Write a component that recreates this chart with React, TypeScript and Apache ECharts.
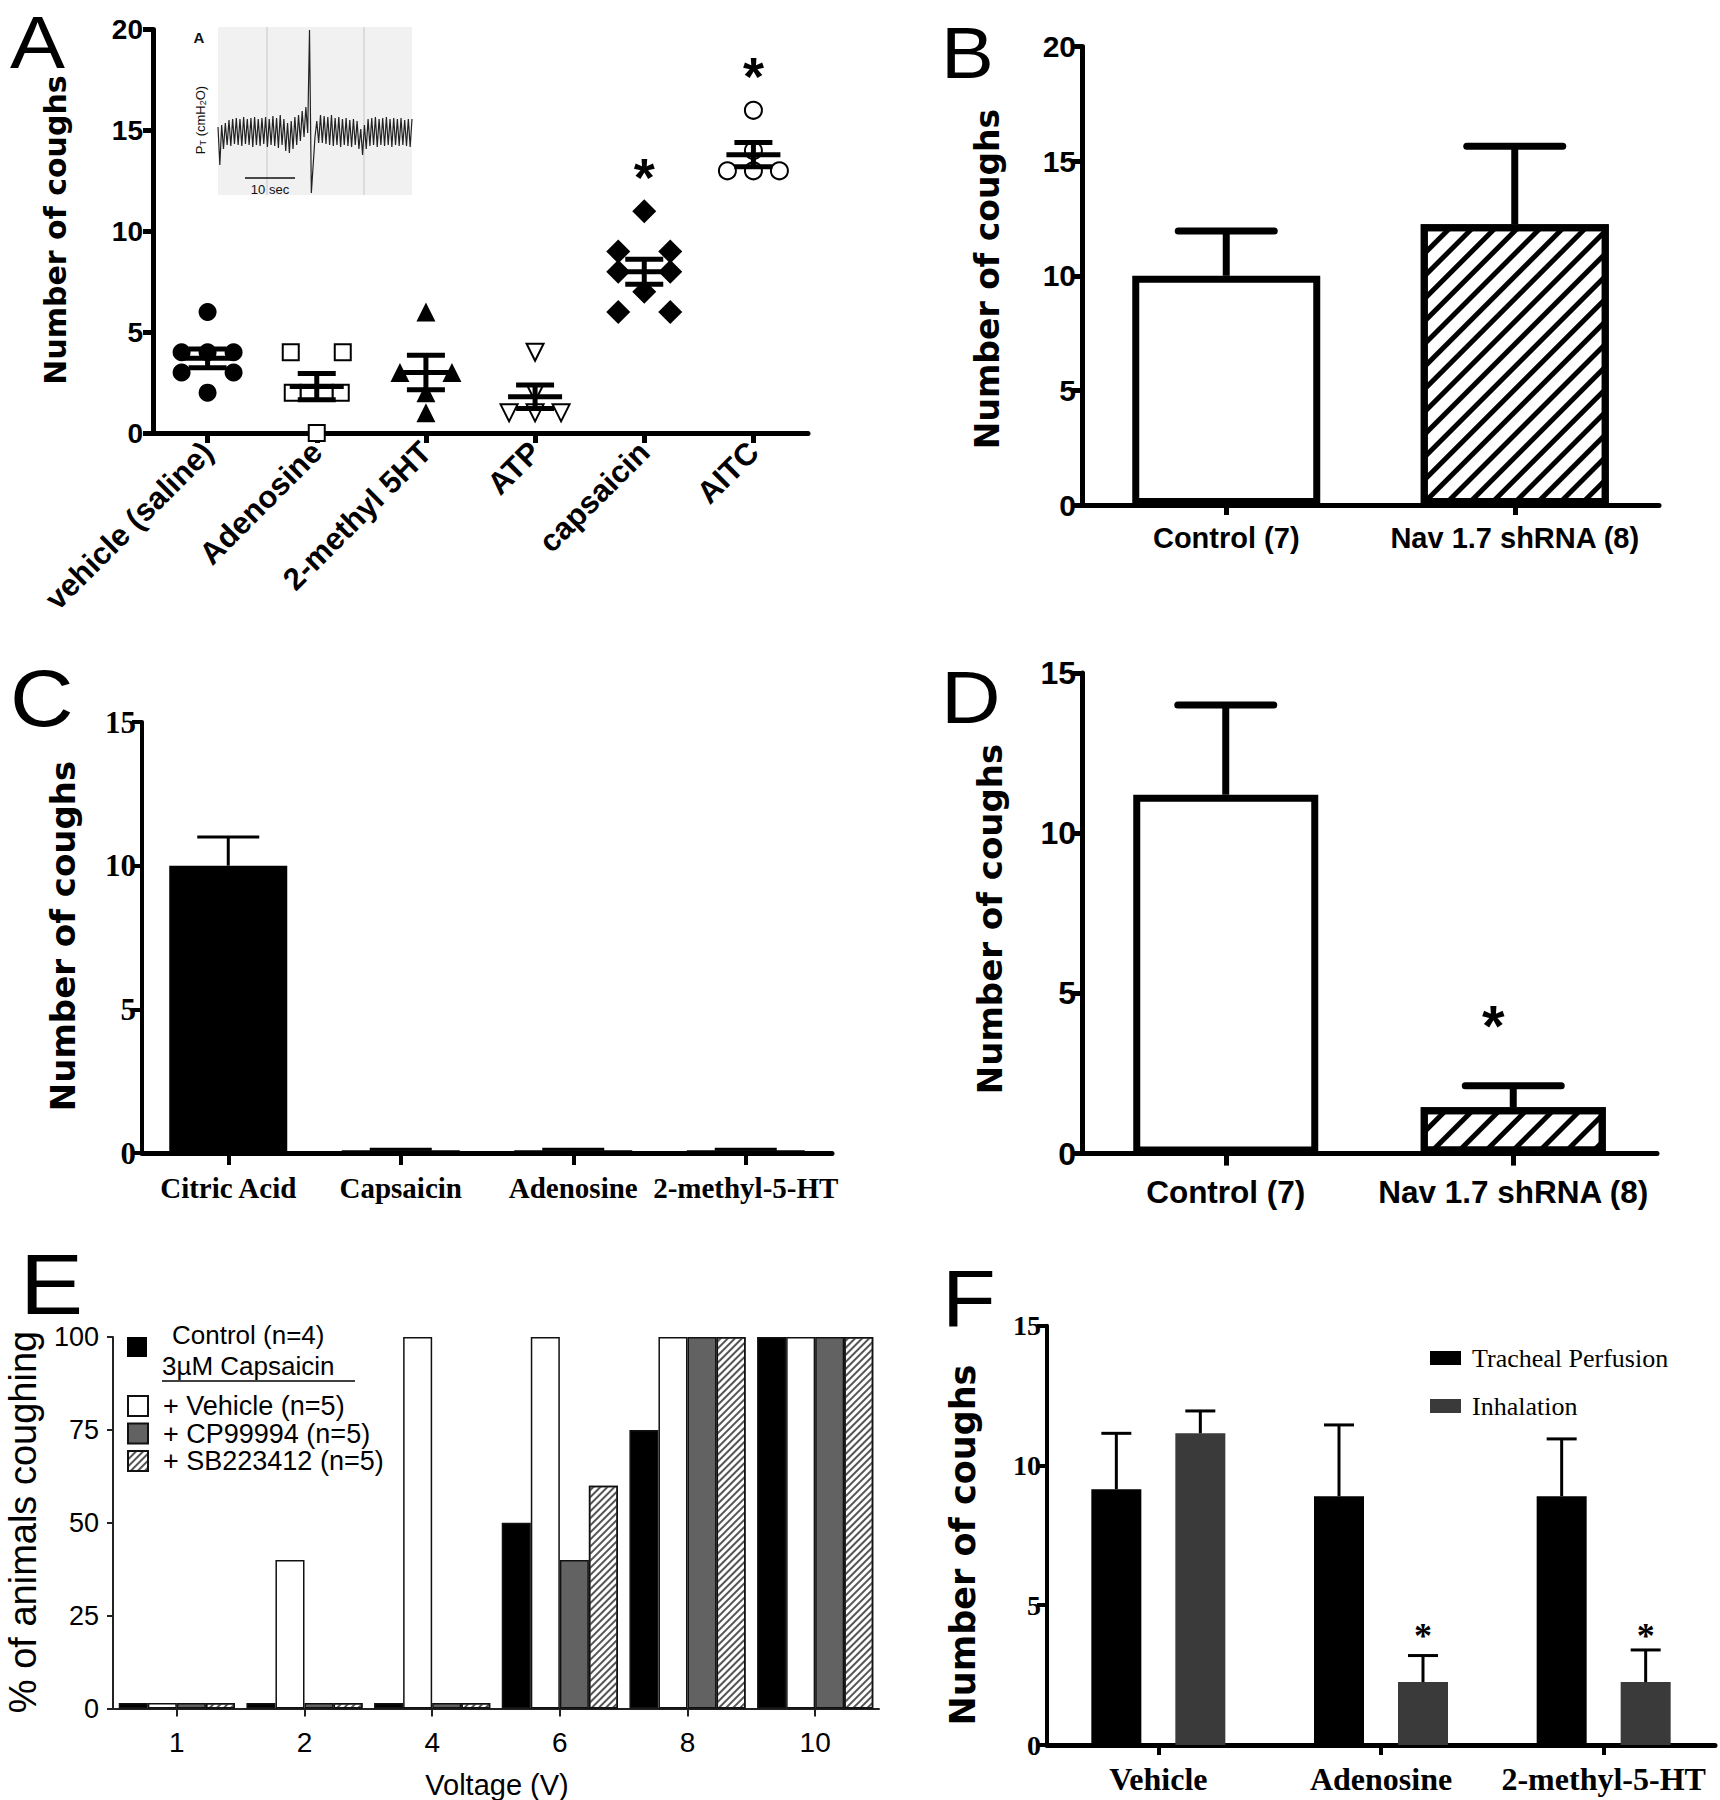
import React, { useEffect, useRef } from 'react';
import * as echarts from 'echarts';

// ---------- Panel A ----------
const aCategories = ['vehicle (saline)', 'Adenosine', '2-methyl 5HT', 'ATP', 'capsaicin', 'AITC'];
const aVehicle = [6, 4, 4, 4, 3, 3, 2];
const aAdenosine = [4, 4, 2, 2, 2, 2, 0];
const aMethyl5HT = [6, 3, 3, 2, 1];
const aATP = [4, 2, 1, 1, 1];
const aCapsaicin = [11, 9, 9, 8, 8, 7, 6, 6];
const aAITC = [16, 14, 13, 13, 13];
const aMeans = [3.7, 2.3, 3.0, 1.8, 8.0, 13.8];
const aSEM = [0.47, 0.65, 0.85, 0.58, 0.62, 0.6];
const aStars: (number | null)[] = [null, null, null, null, 12.9, 17.9];

// inset trace (Pt, arbitrary units)
const insetTrace = [
  68, 30, 70, 46, 72, 50, 75, 49, 76, 51, 77, 50, 76, 49, 78, 51, 76, 50, 77, 48,
  78, 50, 76, 49, 77, 51, 78, 48, 76, 50, 79, 49, 77, 47, 80, 50, 76, 44, 72, 42,
  74, 46, 78, 50, 80, 54, 84, 58, 88, 62,
  165, 2, 30, 58,
  74, 52, 80, 52, 79, 51, 78, 50, 80, 49, 77, 50, 78, 48, 76, 50, 77, 49, 75, 48,
  76, 50, 74, 46, 66, 40, 70, 46, 76, 49, 77, 50, 78, 48, 76, 50, 77, 49, 78, 50,
  76, 48, 77, 50, 76, 49, 77, 50, 75, 49, 76, 48, 76,
];

// ---------- Panel B ----------
const bCategories = ['Control (7)', 'Nav 1.7 shRNA (8)'];
const bMeans = [10, 12.25];
const bErrTop = [11.95, 15.65];

// ---------- Panel C ----------
const cCategories = ['Citric Acid', 'Capsaicin', 'Adenosine', '2-methyl-5-HT'];
const cMeans = [10, 0.1, 0.1, 0.1];
const cErrTop = [11, 0.13, 0.13, 0.13];

// ---------- Panel D ----------
const dCategories = ['Control (7)', 'Nav 1.7 shRNA (8)'];
const dMeans = [11.2, 1.45];
const dErrTop = [14.0, 2.12];
const dStars: (number | null)[] = [null, 4.2];

// ---------- Panel E ----------
const eVoltages = ['1', '2', '4', '6', '8', '10'];
const eControl = [1.5, 1.5, 1.5, 50, 75, 100];
const eVehicle = [1.5, 40, 100, 100, 100, 100];
const eCP99994 = [1.5, 1.5, 1.5, 40, 100, 100];
const eSB223412 = [1.5, 1.5, 1.5, 60, 100, 100];

// ---------- Panel F ----------
const fCategories = ['Vehicle', 'Adenosine', '2-methyl-5-HT'];
const fTracheal = [9.15, 8.9, 8.9];
const fTrachealErr = [11.15, 11.45, 10.95];
const fInhalation = [11.15, 2.25, 2.25];
const fInhalationErr = [11.95, 3.2, 3.4];
const fStars: (number | null)[] = [null, 4.2, 4.2];

const SANS = '"Liberation Sans", Arial, Helvetica, sans-serif';
const NARROW = '"Liberation Sans Narrow", "Arial Narrow", "Liberation Sans", Arial, sans-serif';
const SERIF = '"Liberation Serif", "Times New Roman", Times, serif';
const HEAVY = '"DejaVu Sans", "Liberation Sans", Arial, sans-serif';

function spreadOffsets(vals: number[]): number[] {
  const groups: Record<string, number[]> = {};
  vals.forEach((v, k) => {
    (groups[String(v)] = groups[String(v)] || []).push(k);
  });
  const out = new Array(vals.length).fill(0);
  Object.values(groups).forEach((idxs) => {
    const n = idxs.length;
    if (n === 1) return;
    if (n === 2) {
      out[idxs[0]] = -26;
      out[idxs[1]] = 26;
      return;
    }
    const s = n >= 4 ? 16 : 26;
    idxs.forEach((k, j) => {
      out[k] = (j - (n - 1) / 2) * s;
    });
  });
  return out;
}

function scatterA(name: string, cat: number, vals: number[], symbol: string, size: number, extra: any = {}) {
  const offs = spreadOffsets(vals);
  return {
    type: 'scatter',
    name,
    xAxisIndex: 0,
    yAxisIndex: 0,
    symbol,
    symbolSize: size,
    z: 3,
    itemStyle: { color: '#000', borderColor: '#000', borderWidth: extra.borderWidth || 0, opacity: 1 },
    symbolRotate: extra.rotate || 0,
    data: vals.map((v, k) => ({ value: [cat, v], symbolOffset: [offs[k], 0] })),
  };
}

function errorBars(xi: number, means: number[], tops: number[], capW: number, lw: number, offset: number, round: boolean) {
  return {
    type: 'custom',
    xAxisIndex: xi,
    yAxisIndex: xi,
    z: 4,
    data: means.map((m, i) => [i, m, tops[i]]),
    renderItem: (_p: any, api: any) => {
      const i = api.value(0);
      const b = api.coord([i, api.value(1)]);
      const t = api.coord([i, api.value(2)]);
      const x = b[0] + offset;
      return {
        type: 'group',
        children: [
          { type: 'line', shape: { x1: x, y1: b[1], x2: x, y2: t[1] }, style: { stroke: '#000', lineWidth: lw } },
          {
            type: 'line',
            shape: { x1: x - capW / 2, y1: t[1], x2: x + capW / 2, y2: t[1] },
            style: { stroke: '#000', lineWidth: lw, lineCap: round ? 'round' : 'butt' },
          },
        ],
      };
    },
  };
}

function stars(xi: number, vals: (number | null)[], fs: number, family: string, weight: string, offset: number, shift: number) {
  const data: number[][] = [];
  vals.forEach((v, i) => {
    if (v != null) data.push([i, v]);
  });
  return {
    type: 'custom',
    xAxisIndex: xi,
    yAxisIndex: xi,
    z: 5,
    data,
    renderItem: (_p: any, api: any) => {
      const c = api.coord([api.value(0), api.value(1)]);
      return {
        type: 'text',
        x: c[0] + offset,
        y: c[1] + fs * shift,
        style: { text: '*', fontSize: fs, fontFamily: family, fontWeight: weight, fill: '#000', align: 'center', verticalAlign: 'middle' },
      };
    },
  };
}

function valAxis(gi: number, max: number, interval: number, lw: number, label: any, tickLen = 10, color = '#000') {
  return {
    gridIndex: gi,
    type: 'value',
    min: 0,
    max,
    interval,
    axisLine: { show: true, lineStyle: { color, width: lw } },
    axisTick: { show: true, length: tickLen, lineStyle: { color, width: lw } },
    splitLine: { show: false },
    axisLabel: { color: '#000', ...label },
  };
}

function catAxis(gi: number, data: string[], lw: number, label: any, tickLen = 10, tickW = lw, color = '#000') {
  return {
    gridIndex: gi,
    type: 'category',
    data,
    axisLine: { show: true, lineStyle: { color, width: lw } },
    axisTick: { show: true, alignWithLabel: true, length: tickLen, lineStyle: { color, width: tickW } },
    splitLine: { show: false },
    axisLabel: { color: '#000', interval: 0, ...label },
  };
}

function buildOption(): any {
  const grids = [
    { left: 153, top: 29.6, width: 655, height: 403.4 },
    { left: 1082, top: 46.6, width: 577, height: 458.4 },
    { left: 142, top: 722, width: 690, height: 431 },
    { left: 1082, top: 673, width: 575, height: 480.6 },
    { left: 113, top: 1337, width: 766, height: 371.6 },
    { left: 1047, top: 1325.7, width: 668, height: 419.3 },
    { left: 218, top: 27, width: 194, height: 168 },
  ].map((g) => ({ ...g, containLabel: false, outerBoundsMode: 'none' }));

  const yAxes = [
    valAxis(0, 20, 5, 5, { fontSize: 28, fontWeight: 'bold', fontFamily: SANS, margin: 10 }),
    valAxis(1, 20, 5, 5, { fontSize: 30, fontWeight: 'bold', fontFamily: NARROW, margin: 6 }),
    valAxis(2, 15, 5, 4, { fontSize: 31, fontWeight: 'bold', fontFamily: SERIF, margin: 6 }),
    valAxis(3, 15, 5, 5, { fontSize: 32, fontWeight: 'bold', fontFamily: NARROW, margin: 6 }),
    valAxis(4, 100, 25, 2, { fontSize: 27, fontFamily: SANS, margin: 14 }, 6, '#222'),
    valAxis(5, 15, 5, 4, { fontSize: 28, fontWeight: 'bold', fontFamily: SERIF, margin: 6 }),
    { gridIndex: 6, type: 'value', min: 0, max: 168, show: false },
  ];

  const xAxes = [
    catAxis(0, aCategories, 5, { rotate: 45, fontSize: 31, fontWeight: 'bold', fontFamily: SANS, margin: 14 }),
    catAxis(1, bCategories, 5, { fontSize: 29, fontWeight: 'bold', fontFamily: NARROW, margin: 18 }),
    catAxis(2, cCategories, 5, { fontSize: 29, fontWeight: 'bold', fontFamily: SERIF, margin: 20 }, 12, 4),
    catAxis(3, dCategories, 5, { fontSize: 31.5, fontWeight: 'bold', fontFamily: NARROW, margin: 22 }, 12),
    catAxis(4, eVoltages, 2, { fontSize: 28, fontFamily: SANS, margin: 20 }, 8, 2, '#222'),
    catAxis(5, fCategories, 5, { fontSize: 32, fontWeight: 'bold', fontFamily: SERIF, margin: 18 }, 10, 4),
    { gridIndex: 6, type: 'category', boundaryGap: false, data: insetTrace.map((_, i) => String(i)), show: false },
  ];

  const hatchB = { symbol: 'rect', symbolSize: 1, color: '#000', backgroundColor: '#fff', dashArrayX: [1, 0], dashArrayY: [5, 11], rotation: -Math.PI / 4 };
  const hatchD = { symbol: 'rect', symbolSize: 1, color: '#000', backgroundColor: '#fff', dashArrayX: [1, 0], dashArrayY: [5, 14], rotation: -Math.PI / 4 };
  const hatchE = { symbol: 'rect', symbolSize: 1, color: '#555', backgroundColor: '#fff', dashArrayX: [1, 0], dashArrayY: [2, 3], rotation: -Math.PI / 4 };

  const series: any[] = [
    scatterA('vehicle', 0, aVehicle, 'circle', 18),
    scatterA('adenosine', 1, aAdenosine, 'emptyRect', 16, { borderWidth: 4.5 }),
    scatterA('methyl', 2, aMethyl5HT, 'triangle', 19),
    scatterA('atp', 3, aATP, 'emptyTriangle', 17, { borderWidth: 4.5, rotate: 180 }),
    scatterA('capsaicin', 4, aCapsaicin, 'diamond', 24),
    scatterA('aitc', 5, aAITC, 'emptyCircle', 17, { borderWidth: 5 }),
    {
      type: 'custom',
      xAxisIndex: 0,
      yAxisIndex: 0,
      z: 6,
      data: aMeans.map((m, i) => [i, m, aSEM[i]]),
      renderItem: (_p: any, api: any) => {
        const i = api.value(0);
        const m = api.value(1);
        const s = api.value(2);
        const c = api.coord([i, m]);
        const hi = api.coord([i, m + s]);
        const lo = api.coord([i, m - s]);
        const st = { stroke: '#000', lineWidth: 5 };
        return {
          type: 'group',
          children: [
            { type: 'line', shape: { x1: c[0] - 27, y1: c[1], x2: c[0] + 27, y2: c[1] }, style: st },
            { type: 'line', shape: { x1: c[0], y1: hi[1], x2: c[0], y2: lo[1] }, style: st },
            { type: 'line', shape: { x1: c[0] - 19, y1: hi[1], x2: c[0] + 19, y2: hi[1] }, style: st },
            { type: 'line', shape: { x1: c[0] - 19, y1: lo[1], x2: c[0] + 19, y2: lo[1] }, style: st },
          ],
        };
      },
    },
    stars(0, aStars, 54, SANS, 'bold', 0, 0.08),
    {
      type: 'line',
      xAxisIndex: 6,
      yAxisIndex: 6,
      data: insetTrace,
      symbol: 'none',
      z: 3,
      lineStyle: { color: '#222', width: 1.2 },
    },
    // B
    {
      type: 'bar',
      xAxisIndex: 1,
      yAxisIndex: 1,
      barWidth: 188,
      z: 2,
      itemStyle: { color: '#fff', borderColor: '#000', borderWidth: 7 },
      data: bMeans.map((v, i) => (i === 1 ? { value: v, itemStyle: { decal: hatchB } } : v)),
    },
    errorBars(1, bMeans, bErrTop, 96, 7, 0, true),
    // C
    {
      type: 'bar',
      xAxisIndex: 2,
      yAxisIndex: 2,
      barWidth: 118,
      itemStyle: { color: '#000' },
      data: cMeans,
    },
    errorBars(2, cMeans, cErrTop, 62, 3, 0, false),
    // D
    {
      type: 'bar',
      xAxisIndex: 3,
      yAxisIndex: 3,
      barWidth: 185,
      itemStyle: { color: '#fff', borderColor: '#000', borderWidth: 7 },
      data: dMeans.map((v, i) => (i === 1 ? { value: v, itemStyle: { decal: hatchD } } : v)),
    },
    errorBars(3, dMeans, dErrTop, 96, 7, 0, true),
    stars(3, dStars, 58, SANS, 'bold', -20, 0.12),
    // E
    {
      type: 'bar', name: 'Control (n=4)', xAxisIndex: 4, yAxisIndex: 4, barGap: '0%', barCategoryGap: '9%',
      itemStyle: { color: '#000', borderColor: '#111', borderWidth: 1.5 }, data: eControl,
    },
    {
      type: 'bar', name: '+ Vehicle (n=5)', xAxisIndex: 4, yAxisIndex: 4, barGap: '0%', barCategoryGap: '9%',
      itemStyle: { color: '#fff', borderColor: '#111', borderWidth: 1.5 }, data: eVehicle,
    },
    {
      type: 'bar', name: '+ CP99994 (n=5)', xAxisIndex: 4, yAxisIndex: 4, barGap: '0%', barCategoryGap: '9%',
      itemStyle: { color: '#626262', borderColor: '#111', borderWidth: 1.5 }, data: eCP99994,
    },
    {
      type: 'bar', name: '+ SB223412 (n=5)', xAxisIndex: 4, yAxisIndex: 4, barGap: '0%', barCategoryGap: '9%',
      itemStyle: { color: '#fff', borderColor: '#111', borderWidth: 1.5, decal: hatchE }, data: eSB223412,
    },
    // F
    {
      type: 'bar', name: 'Tracheal Perfusion', xAxisIndex: 5, yAxisIndex: 5, barWidth: 50, barGap: '68%',
      itemStyle: { color: '#000' }, data: fTracheal,
    },
    {
      type: 'bar', name: 'Inhalation', xAxisIndex: 5, yAxisIndex: 5, barWidth: 50, barGap: '68%',
      itemStyle: { color: '#3a3a3a' }, data: fInhalation,
    },
    errorBars(5, fTracheal, fTrachealErr, 30, 3, -42, false),
    errorBars(5, fInhalation, fInhalationErr, 30, 3, 42, false),
    stars(5, fStars, 36, SERIF, 'bold', 42, 0.22),
  ];

  const legends = [
    {
      data: ['Control (n=4)'],
      icon: 'path://M0,0L0.01,0L0.01,0.01Z M0,24L20,24L20,44L0,44Z',
      left: 127, top: 1313, orient: 'vertical', padding: 0,
      itemWidth: 20, itemHeight: 44,
      itemStyle: { borderWidth: 0 },
      textStyle: { fontSize: 26, fontFamily: SANS, color: '#000', padding: [0, 0, 0, 20] },
      selectedMode: false,
    },
    {
      data: ['+ Vehicle (n=5)', '+ CP99994 (n=5)', '+ SB223412 (n=5)'],
      icon: 'rect',
      left: 127, top: 1392.5, orient: 'vertical', padding: 0, itemGap: 0.5,
      itemWidth: 20, itemHeight: 20,
      textStyle: { fontSize: 27, fontFamily: SANS, color: '#000', padding: [0, 0, 0, 10] },
      selectedMode: false,
    },
    {
      data: ['Tracheal Perfusion', 'Inhalation'],
      icon: 'rect',
      left: 1430, top: 1345, orient: 'vertical', padding: 0, itemGap: 22,
      itemWidth: 31, itemHeight: 14,
      textStyle: { fontSize: 26, fontFamily: SERIF, color: '#000', padding: [0, 0, 0, 6] },
      selectedMode: false,
    },
  ];

  const letter = (t: string, x: number, y: number, fs: number) => ({
    type: 'text', x, y, scaleX: 1.1,
    style: { text: t, fontSize: fs, fontFamily: SANS, fill: '#000', align: 'left', verticalAlign: 'middle' },
  });
  const ytitle = (t: string, x: number, y: number, fs: number, weight = 'bold', family = HEAVY) => ({
    type: 'text', x, y, rotation: Math.PI / 2,
    style: { text: t, fontSize: fs, fontFamily: family, fontWeight: weight, fill: '#000', align: 'center', verticalAlign: 'middle' },
  });

  const graphic = [
    // inset background
    { type: 'rect', shape: { x: 218, y: 27, width: 194, height: 168 }, style: { fill: '#f1f1f1' }, z: 0 },
    { type: 'line', shape: { x1: 267, y1: 27, x2: 267, y2: 195 }, style: { stroke: '#d4d4d4', lineWidth: 1.5 }, z: 1 },
    { type: 'line', shape: { x1: 364, y1: 27, x2: 364, y2: 195 }, style: { stroke: '#d4d4d4', lineWidth: 1.5 }, z: 1 },
    { type: 'line', shape: { x1: 245, y1: 178, x2: 295, y2: 178 }, style: { stroke: '#111', lineWidth: 1.5 }, z: 2 },
    { type: 'text', x: 270, y: 189, style: { text: '10 sec', fontSize: 13, fontFamily: SANS, fill: '#111', align: 'center', verticalAlign: 'middle' }, z: 2 },
    { type: 'text', x: 199, y: 37, style: { text: 'A', fontSize: 15, fontWeight: 'bold', fontFamily: SANS, fill: '#111', align: 'center', verticalAlign: 'middle' }, z: 2 },
    {
      type: 'text', x: 200, y: 120, rotation: Math.PI / 2, z: 2,
      style: {
        text: 'P{s|T} (cmH{s|2}O)', fontSize: 13, fontFamily: SANS, fill: '#111', align: 'center', verticalAlign: 'middle',
        rich: { s: { fontSize: 9, fontFamily: SANS, fill: '#111', padding: [6, 0, 0, 0] } },
      },
    },
    // panel letters
    letter('A', 10, 42, 75),
    letter('B', 941, 53, 72),
    letter('C', 10, 698, 80),
    letter('D', 941, 697, 75),
    letter('E', 20, 1284, 86),
    letter('F', 942, 1298, 80),
    // y titles
    ytitle('Number of coughs', 55, 230, 30),
    ytitle('Number of coughs', 987, 279, 33),
    ytitle('Number of coughs', 63, 936, 34),
    ytitle('Number of coughs', 990, 919, 34),
    ytitle('% of animals coughing', 23, 1522, 38, 'normal', SANS),
    ytitle('Number of coughs', 963, 1545, 35),
    // E x title + legend subtitle
    { type: 'text', x: 497, y: 1785, style: { text: 'Voltage (V)', fontSize: 29, fontFamily: SANS, fill: '#000', align: 'center', verticalAlign: 'middle' } },
    { type: 'text', x: 162, y: 1366, style: { text: '3\u00B5M Capsaicin', fontSize: 26, fontFamily: SANS, fill: '#000', align: 'left', verticalAlign: 'middle' } },
    { type: 'line', shape: { x1: 162, y1: 1381, x2: 355, y2: 1381 }, style: { stroke: '#000', lineWidth: 1.5 } },
  ];

  return {
    animation: false,
    backgroundColor: '#fff',
    textStyle: { fontFamily: SANS },
    grid: grids,
    xAxis: xAxes,
    yAxis: yAxes,
    legend: legends,
    series,
    graphic,
  };
}

export default function App() {
  const ref = useRef<HTMLDivElement>(null);
  useEffect(() => {
    if (!ref.current) return;
    const chart = echarts.init(ref.current, null, { renderer: 'svg' });
    chart.setOption(buildOption());
    return () => chart.dispose();
  }, []);
  return (
    <div
      ref={ref}
      style={{ position: 'absolute', left: 0, top: 0, width: 1720, height: 1800, background: '#fff' }}
    />
  );
}
